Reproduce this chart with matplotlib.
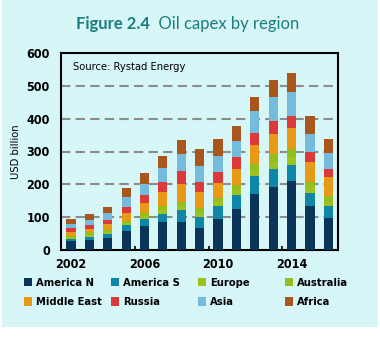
import numpy as np
import matplotlib.pyplot as plt
from matplotlib.patches import Rectangle

years = list(range(2002, 2017))
regions = ['America N', 'America S', 'Europe', 'Australia',
           'Middle East', 'Russia', 'Asia', 'Africa']
colors = ['#0b3558', '#0e86a8', '#9cc41c', '#94bd1f',
          '#e89a17', '#dc3a3a', '#74bbdc', '#a9561d']

# USD billion per region
america_n   = [26, 30, 37, 59, 73, 84, 85, 66, 95, 125, 172, 193, 209, 133, 97]
america_s   = [ 8, 10, 11, 16, 20, 27, 36, 34, 38,  43,  53,  53,  49,  41, 37]
europe      = [ 5,  7,  7,  7, 11, 12, 12, 14, 13,  15,  19,  23,  25,  17, 15]
australia   = [ 5,  7,  7,  7, 10, 12, 12, 14, 13,  14,  18,  22,  25,  17, 15]
middle_east = [12, 10, 16, 23, 28, 43, 56, 49, 44,  50,  59,  62,  65,  60, 59]
russia      = [10, 11, 12, 20, 25, 30, 39, 29, 35,  35,  36,  41,  36,  29, 23]
asia        = [13, 15, 22, 28, 33, 41, 51, 49, 49,  50,  65,  72,  71,  57, 49]
africa      = [14, 20, 20, 29, 33, 37, 44, 53, 52,  46,  45,  51,  58,  53, 42]
series = [america_n, america_s, europe, australia, middle_east, russia, asia, africa]

bg = '#d6f6f8'
narrow = dict(family='DejaVu Sans', stretch='condensed')
fig = plt.figure(figsize=(3.8, 3.4), dpi=100, facecolor='white')
fig.patches.append(Rectangle((2/380, 1 - 327/340), 376/380, 327/340,
                             transform=fig.transFigure, facecolor=bg,
                             edgecolor='none', zorder=-10))

fig.text(150/380, 1 - 24/340, 'Figure 2.4', color='#1a7e80', fontweight='bold',
         fontsize=12, ha='right', va='center', family='Lato')
fig.text(150/380, 1 - 24/340, '  Oil capex by region', color='#1a7e80',
         fontsize=12, ha='left', va='center', family='Lato')

ax = fig.add_axes([61/380, 1 - 250/340, 277/380, 197/340])
ax.set_facecolor(bg)

bottom = np.zeros(len(years))
for name, vals, c in zip(regions, series, colors):
    ax.bar(years, vals, bottom=bottom, width=0.5, color=c, label=name, zorder=3)
    bottom += np.array(vals)

ax.set_xlim(2001.46, 2016.52)
ax.set_ylim(0, 600)
ax.set_yticks(range(0, 601, 100))
ax.set_xticks([2002, 2006, 2010, 2014])
ax.set_xticks([2005.5, 2009.5, 2013.5], minor=True)
ax.tick_params(axis='x', which='major', length=0, pad=6)
ax.tick_params(axis='x', which='minor', direction='in', length=3, width=1.2)
ax.tick_params(axis='y', length=0, pad=8)
for lab in ax.get_xticklabels() + ax.get_yticklabels():
    lab.set_family('DejaVu Sans')
    lab.set_stretch('condensed')
    lab.set_fontweight('bold')
    lab.set_fontsize(9)

for v in range(100, 600, 100):
    ax.axhline(v, color='#8c8c8c', lw=1.5, ls=(0, (4.5, 2.5)), zorder=1)

for s in ax.spines.values():
    s.set_linewidth(1.5)

ax.set_ylabel('USD billion', fontsize=8, labelpad=4, **narrow)
ax.text(0.045, 0.93, 'Source: Rystad Energy', transform=ax.transAxes,
        fontsize=8, va='center', **narrow)

handles, labels = ax.get_legend_handles_labels()
col_x = [24, 111, 198, 285]
for i, x in enumerate(col_x):
    hs = [handles[i], handles[i + 4]]
    ls = [labels[i], labels[i + 4]]
    leg = fig.legend(hs, ls, loc='upper left',
                     bbox_to_anchor=(x/380, 1 - 278/340),
                     frameon=False, handlelength=0.75, handleheight=0.75,
                     handletextpad=0.3, labelspacing=0.85,
                     borderaxespad=0, borderpad=0,
                     prop=dict(size=8, weight='bold', **narrow))

fig.savefig('out.png', dpi=100, facecolor='white')
